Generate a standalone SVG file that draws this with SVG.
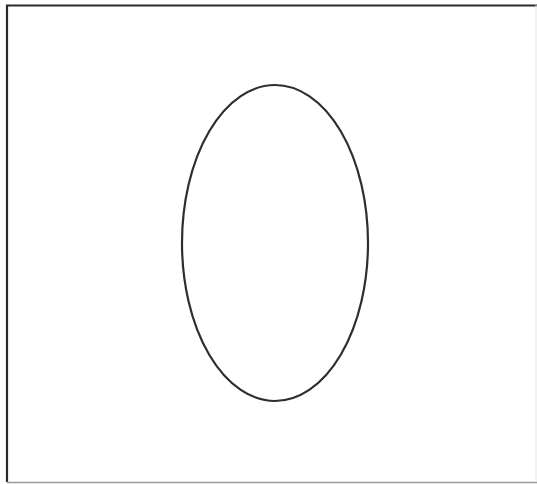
<svg xmlns="http://www.w3.org/2000/svg" width="537" height="484" viewBox="0 0 537 484">
<style>
.frame{fill:none;stroke:#2a2a2a;stroke-width:2.2}
.shape{fill:none;stroke:#2e2e2e;stroke-width:2.2}
</style>
<rect width="537" height="484" fill="#ffffff"/>
<g id="frame">
<path class="frame" d="M540 5.5 H7 V482"/>
<path d="M7 482.5 H537" stroke="#9a9a9a" stroke-width="1.5" fill="none"/>
<path d="M536 5 V482" stroke="#e4e4e4" stroke-width="1" fill="none"/>
</g>
<g id="ellipse">
<ellipse class="shape" cx="275" cy="243" rx="93" ry="158"/>
</g>
</svg>
